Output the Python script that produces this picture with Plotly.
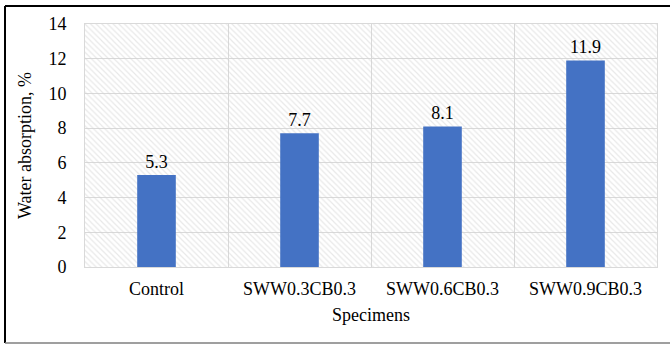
import plotly.graph_objects as go

# Data
categories = ["Control", "SWW0.3CB0.3", "SWW0.6CB0.3", "SWW0.9CB0.3"]
absorption = [5.3, 7.7, 8.1, 11.9]
y_ticks = [0, 2, 4, 6, 8, 10, 12, 14]

positions = list(range(len(categories)))
y_max = y_ticks[-1]

W, H = 670, 345
ML, MR, MT, MB = 85, 13, 24, 78
plot_w = W - ML - MR
plot_h = H - MT - MB

def px_to_paper_x(px):
    return (px - ML) / plot_w

def px_to_paper_y(py):
    return (H - MB - py) / plot_h

font_family = "Liberation Serif"
grid_color = "#d9d9d9"
text_color = "#000000"

fig = go.Figure()

# Hatched plot-area background, one full-width band per category
fig.add_trace(go.Bar(
    x=positions,
    y=[y_max] * len(categories),
    width=1.0,
    marker=dict(
        color="rgba(0,0,0,0)",
        line=dict(width=0),
        pattern=dict(shape="\\", fgcolor="#d2d2d2", bgcolor="rgba(0,0,0,0)",
                     size=4, solidity=0.3, fillmode="overlay"),
    ),
    hoverinfo="skip",
    showlegend=False,
))

# Water absorption bars
fig.add_trace(go.Bar(
    x=positions,
    y=absorption,
    width=0.27,
    marker=dict(color="#4472C4", line=dict(width=0)),
    text=[f"{v:.1f}" for v in absorption],
    textposition="outside",
    textfont=dict(family=font_family, size=18, color=text_color),
    cliponaxis=False,
    showlegend=False,
))

fig.update_layout(
    width=W, height=H,
    margin=dict(l=ML, r=MR, t=MT, b=MB),
    paper_bgcolor="white",
    plot_bgcolor="white",
    barmode="overlay",
    font=dict(family=font_family, size=18, color=text_color),
    xaxis=dict(
        range=[-0.5, len(categories) - 0.5],
        tickmode="array",
        tickvals=positions,
        ticktext=categories,
        showgrid=False,
        zeroline=False,
        showline=True, linecolor=grid_color, linewidth=1, mirror=True,
        ticks="outside", ticklen=5, tickcolor="rgba(0,0,0,0)",
        tickfont=dict(family=font_family, size=18, color=text_color),
        minor=dict(
            tickmode="array",
            tickvals=[p - 0.5 for p in positions] + [positions[-1] + 0.5],
            showgrid=True, gridcolor=grid_color, gridwidth=1,
            ticks="",
        ),
        title=dict(text="Specimens", standoff=10,
                   font=dict(family=font_family, size=18, color=text_color)),
    ),
    yaxis=dict(
        range=[0, y_max],
        tickmode="array",
        tickvals=y_ticks,
        showgrid=True, gridcolor=grid_color, gridwidth=1,
        zeroline=False,
        showline=True, linecolor=grid_color, linewidth=1, mirror=True,
        ticks="outside", ticklen=14, tickcolor="rgba(0,0,0,0)",
        tickfont=dict(family=font_family, size=18, color=text_color),
        title=dict(text="Water absorption, %", standoff=12,
                   font=dict(family=font_family, size=18, color=text_color)),
    ),
    shapes=[
        dict(type="line", xref="paper", yref="paper",
             x0=px_to_paper_x(5), x1=px_to_paper_x(W + 5),
             y0=px_to_paper_y(6), y1=px_to_paper_y(6),
             line=dict(color="#000000", width=2)),
        dict(type="line", xref="paper", yref="paper",
             x0=px_to_paper_x(5), x1=px_to_paper_x(5),
             y0=px_to_paper_y(6), y1=px_to_paper_y(343),
             line=dict(color="#000000", width=2)),
        dict(type="line", xref="paper", yref="paper",
             x0=px_to_paper_x(5), x1=px_to_paper_x(W + 5),
             y0=px_to_paper_y(343), y1=px_to_paper_y(343),
             line=dict(color="#7f7f7f", width=1.5)),
    ],
)

fig.write_html("out.html")
